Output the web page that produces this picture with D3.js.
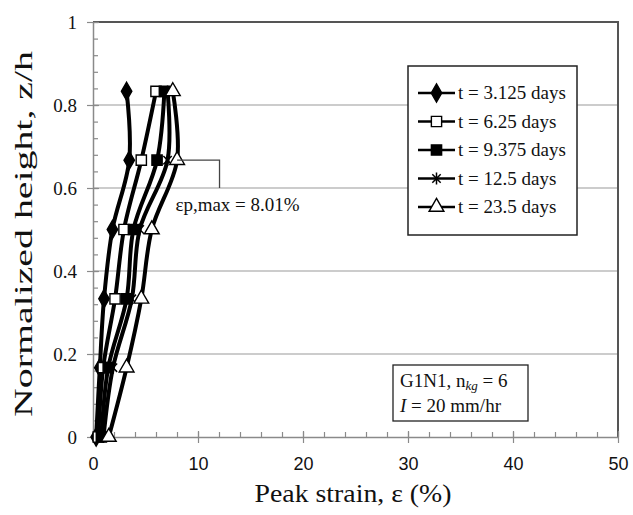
<!DOCTYPE html>
<html>
<head>
<meta charset="utf-8">
<script src="https://cdn.jsdelivr.net/npm/d3@7"></script>
<style>
  html, body { margin: 0; padding: 0; background: #fff; }
  svg { display: block; }
</style>
</head>
<body>
<svg id="chart" width="633" height="515"></svg>
<script>
// ---- data ----
const heights = [0, 0.167, 0.333, 0.5, 0.667, 0.833];
const seriesNames = ['t = 3.125 days', 't = 6.25 days', 't = 9.375 days', 't = 12.5 days', 't = 23.5 days'];
const seriesMarkers = ['diamond', 'openSquare', 'square', 'star', 'openTriangle'];
const strain3125 = [0.3, 0.65, 1.05, 1.85, 3.45, 3.2];
const strain625  = [0.5, 0.97, 2.1, 2.95, 4.6, 6.0];
const strain9375 = [0.8, 1.45, 3.2, 3.85, 6.1, 6.8];
const strain125  = [1.0, 1.9, 3.7, 4.45, 7.1, 7.1];
const strain235  = [1.5, 3.2, 4.6, 5.6, 8.01, 7.6];
const seriesValues = [strain3125, strain625, strain9375, strain125, strain235];

const xTicks = [0, 10, 20, 30, 40, 50];
const xMinorTicks = d3.range(0, 51, 2);
const yTicks = [0, 0.2, 0.4, 0.6, 0.8, 1];
const yMinorTicks = d3.range(0, 26).map(i => i * 0.04);

// callout for the max strain
const calloutPath = [[8.01, 0.667], [12.05, 0.667], [12.05, 0.6]];

// ---- layout ----
const plot = { left: 93, right: 618, top: 22, bottom: 437 };

const svg = d3.select('#chart');
const x = d3.scaleLinear().domain([0, 50]).range([plot.left, plot.right]);
const y = d3.scaleLinear().domain([0, 1]).range([plot.bottom, plot.top]);

const serif = '"Liberation Serif", "Times New Roman", serif';
const sans = '"Liberation Sans", Arial, sans-serif';

// grid
svg.append('g')
  .selectAll('line')
  .data(yTicks.filter(d => d > 0 && d < 1))
  .join('line')
  .attr('x1', plot.left).attr('x2', plot.right)
  .attr('y1', d => y(d)).attr('y2', d => y(d))
  .attr('stroke', '#9a9a9a').attr('stroke-width', 1.2);

// frame: top + right
svg.append('path')
  .attr('d', `M${plot.left},${plot.top}H${plot.right}V${plot.bottom}`)
  .attr('fill', 'none').attr('stroke', '#555').attr('stroke-width', 2);

// minor ticks (inside)
svg.append('g')
  .attr('transform', `translate(${plot.left},0)`)
  .call(d3.axisRight(y).tickValues(yMinorTicks).tickSize(5).tickFormat(() => ''))
  .call(g => g.select('.domain').remove())
  .selectAll('line').attr('stroke', '#8a8a8a').attr('stroke-width', 1.2);

svg.append('g')
  .attr('transform', `translate(0,${plot.bottom})`)
  .call(d3.axisTop(x).tickValues(xMinorTicks).tickSize(5).tickFormat(() => ''))
  .call(g => g.select('.domain').remove())
  .selectAll('line').attr('stroke', '#8a8a8a').attr('stroke-width', 1.2);

// y axis
svg.append('g')
  .attr('transform', `translate(${plot.left},0)`)
  .call(d3.axisLeft(y).tickValues(yTicks).tickSizeInner(6).tickSizeOuter(0).tickPadding(10).tickFormat(d => String(d)))
  .call(g => g.select('.domain').attr('stroke', '#8a8a8a').attr('stroke-width', 1.5))
  .call(g => g.selectAll('.tick line').attr('x1', 6).attr('stroke', '#8a8a8a').attr('stroke-width', 1.2))
  .call(g => g.selectAll('.tick text').attr('font-family', serif).attr('font-size', 19).attr('fill', '#111'));

// x axis
svg.append('g')
  .attr('transform', `translate(0,${plot.bottom})`)
  .call(d3.axisBottom(x).tickValues(xTicks).tickSizeInner(6).tickSizeOuter(0).tickPadding(14))
  .call(g => g.select('.domain').attr('stroke', '#8a8a8a').attr('stroke-width', 1.5))
  .call(g => g.selectAll('.tick line').attr('y1', -6).attr('stroke', '#8a8a8a').attr('stroke-width', 1.2))
  .call(g => g.selectAll('.tick text').attr('font-family', sans).attr('font-size', 18).attr('fill', '#111'));

// axis titles
svg.append('text')
  .attr('x', 353).attr('y', 502)
  .attr('text-anchor', 'middle')
  .attr('font-family', serif).attr('font-size', 26).attr('fill', '#111')
  .attr('textLength', 197).attr('lengthAdjust', 'spacingAndGlyphs')
  .text('Peak strain, ε (%)');

svg.append('text')
  .attr('transform', `translate(32,${234}) rotate(-90)`)
  .attr('text-anchor', 'middle')
  .attr('font-family', serif).attr('font-size', 26).attr('fill', '#111')
  .attr('textLength', 366).attr('lengthAdjust', 'spacingAndGlyphs')
  .text('Normalized height, z/h');

// ---- markers ----
const starType = {
  draw(ctx, size) {
    const r = Math.sqrt(size) / 2;
    const d = r * Math.SQRT1_2;
    ctx.moveTo(0, -r); ctx.lineTo(0, r);
    ctx.moveTo(-d, -d); ctx.lineTo(d, d);
    ctx.moveTo(-d, d); ctx.lineTo(d, -d);
  }
};
function drawMarker(g, kind, cx, cy) {
  let sym, fill = '#000', sw = 1.4;
  if (kind === 'diamond') sym = d3.symbol(d3.symbolDiamond, 95);
  else if (kind === 'openSquare') { sym = d3.symbol(d3.symbolSquare, 105); fill = '#fff'; }
  else if (kind === 'square') sym = d3.symbol(d3.symbolSquare, 105);
  else if (kind === 'star') { sym = d3.symbol(starType, 140); fill = 'none'; sw = 1.5; }
  else { sym = d3.symbol(d3.symbolTriangle, 95); fill = '#fff'; }
  g.append('path')
    .attr('transform', `translate(${cx},${cy})`)
    .attr('d', sym())
    .attr('fill', fill)
    .attr('stroke', '#000')
    .attr('stroke-width', sw);
}

// ---- series ----
const line = d3.line()
  .x(d => x(d[0]))
  .y(d => y(d[1]))
  .curve(d3.curveCatmullRom.alpha(0.5));

const seriesG = svg.append('g');
seriesValues.forEach((vals, i) => {
  const pts = vals.map((v, j) => [v, heights[j]]);
  const g = seriesG.append('g');
  g.append('path')
    .attr('d', line(pts))
    .attr('fill', 'none')
    .attr('stroke', '#000')
    .attr('stroke-width', 4)
    .attr('stroke-linejoin', 'round');
  pts.forEach(p => drawMarker(g, seriesMarkers[i], x(p[0]), y(p[1])));
});

// ---- callout ----
svg.append('path')
  .attr('d', d3.line().x(d => x(d[0])).y(d => y(d[1]))(calloutPath))
  .attr('fill', 'none').attr('stroke', '#444').attr('stroke-width', 1.3);

svg.append('text')
  .attr('x', x(7.85)).attr('y', 211)
  .attr('font-family', serif).attr('font-size', 19).attr('fill', '#111')
  .text('εp,max = 8.01%');

// ---- legend ----
const legend = { x: 408, y: 66, w: 169, h: 169 };
const lg = svg.append('g');
lg.append('rect')
  .attr('x', legend.x).attr('y', legend.y)
  .attr('width', legend.w).attr('height', legend.h)
  .attr('fill', '#fff').attr('stroke', '#222').attr('stroke-width', 1.5);

seriesNames.forEach((name, i) => {
  const cy = 93 + i * 28.5;
  lg.append('line')
    .attr('x1', 418).attr('x2', 455).attr('y1', cy).attr('y2', cy)
    .attr('stroke', '#000').attr('stroke-width', 2.5);
  drawMarker(lg, seriesMarkers[i], 436.5, cy);
  lg.append('text')
    .attr('x', 458).attr('y', cy + 6)
    .attr('font-family', serif).attr('font-size', 19).attr('fill', '#111')
    .text(name);
});

// ---- note box ----
const nb = svg.append('g');
nb.append('rect')
  .attr('x', 393).attr('y', 365).attr('width', 135).attr('height', 56)
  .attr('fill', '#fff').attr('stroke', '#222').attr('stroke-width', 1.3);
const t1 = nb.append('text')
  .attr('x', 400).attr('y', 387)
  .attr('font-family', serif).attr('font-size', 19).attr('fill', '#111');
t1.append('tspan').text('G1N1, n');
t1.append('tspan').attr('font-style', 'italic').attr('font-size', 13).attr('dy', 3).text('kg');
t1.append('tspan').attr('dy', -3).text(' = 6');
const t2 = nb.append('text')
  .attr('x', 400).attr('y', 412)
  .attr('font-family', serif).attr('font-size', 19).attr('fill', '#111');
t2.append('tspan').attr('font-style', 'italic').text('I');
t2.append('tspan').text(' = 20 mm/hr');
</script>
</body>
</html>
